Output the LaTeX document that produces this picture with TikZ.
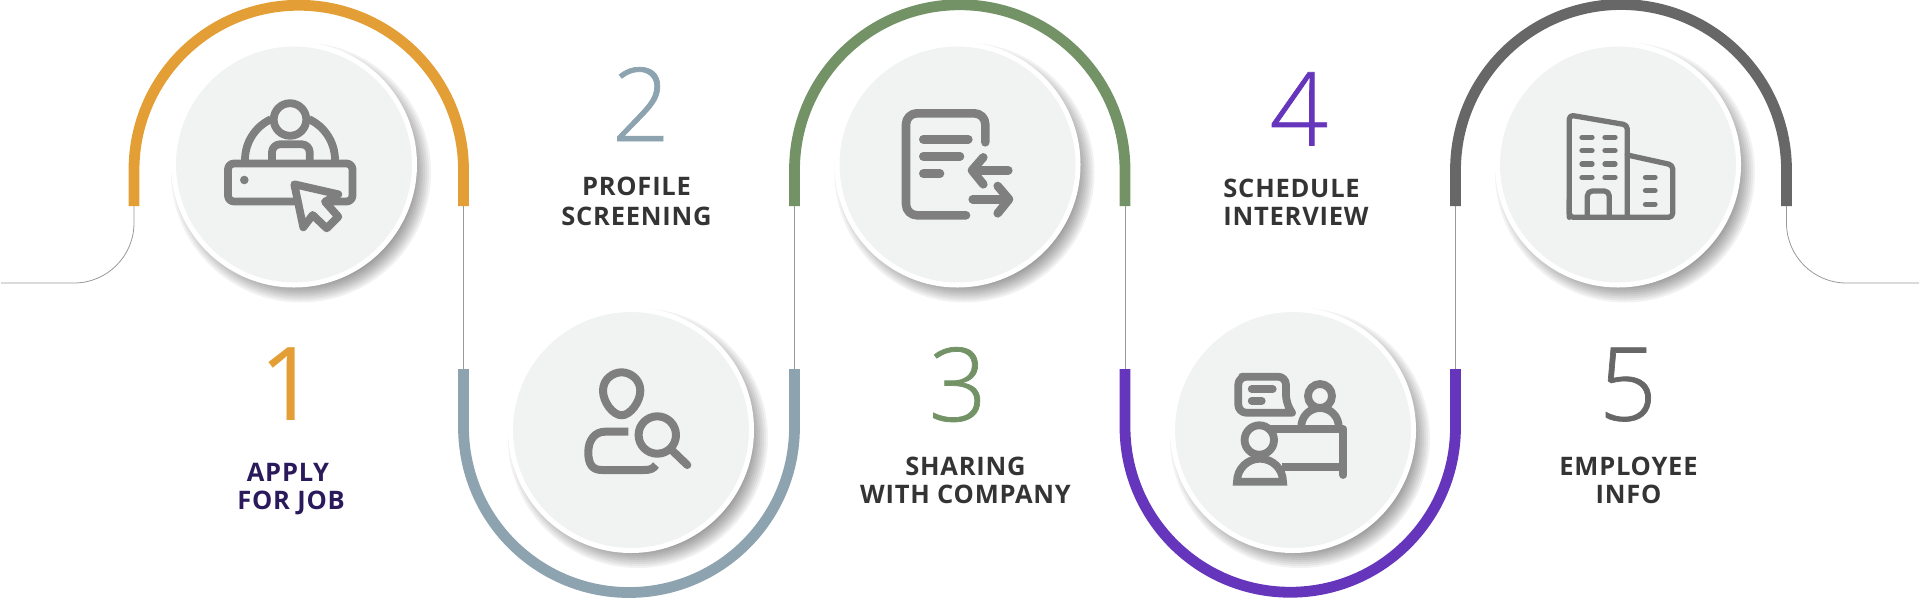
\documentclass[tikz,border=0pt]{standalone}
\usepackage{fontspec}
\setmainfont{Open Sans}[LetterSpace = 3]
\newfontfamily\digitfont{Open Sans Light}[FakeBold = 0.7]
\newfontfamily\onefont{Open Sans}
\definecolor{stepone}{HTML}{E39E35}
\definecolor{steptwo}{HTML}{8DA3B0}
\definecolor{stepthree}{HTML}{739367}
\definecolor{stepfour}{HTML}{6535BB}
\definecolor{stepfive}{HTML}{676767}
\definecolor{discfill}{HTML}{F1F3F2}
\definecolor{icongray}{HTML}{7F7F7F}
\definecolor{labelgray}{HTML}{343434}
\definecolor{applyblue}{HTML}{2B1A5B}
\tikzset{
	band/.style = {line width = 10.8pt},
	thinline/.style = {line width = 0.8pt, black!40},
	disc/.style = {circle, draw = white, line width = 5pt, fill = discfill, minimum size = 241pt, inner sep = 0pt},
	icon/.style = {line width = 7.8pt, icongray, line cap = round, line join = round},
	digit/.style = {anchor = base, inner sep = 0pt, font = \digitfont\fontsize{102}{102}\selectfont},
	caption/.style = {anchor = center, inner sep = 0pt, align = center, labelgray, font = \bfseries\fontsize{25.5}{28}\selectfont}
}
\begin{document}
\begin{tikzpicture}[x = 1pt, y = -1pt]
	\useasboundingbox (0, 0) rectangle (1920, 598);
	% thin lines
	\draw[thinline] (1, 283) -- (74, 283) arc (90:0:60) -- (134, 206);
	\draw[thinline] (463.5, 206) -- (463.5, 369);
	\draw[thinline] (794.5, 206) -- (794.5, 369);
	\draw[thinline] (1125, 206) -- (1125, 369);
	\draw[thinline] (1455.5, 206) -- (1455.5, 369);
	\draw[thinline] (1786.5, 206) -- (1786.5, 223) arc (180:90:60) -- (1919, 283);
	% the bands
	\draw[band, stepone] (134, 206) -- (134, 170) arc (180:360:164.75) -- (463.5, 206);
	\draw[band, steptwo] (463.5, 369) -- (463.5, 427) arc (180:0:165.5) -- (794.5, 369);
	\draw[band, stepthree] (794.5, 206) -- (794.5, 170) arc (180:360:165.25) -- (1125, 206);
	\draw[band, stepfour] (1125, 369) -- (1125, 427) arc (180:0:165.25) -- (1455.5, 369);
	\draw[band, stepfive] (1455.5, 206) -- (1455.5, 170) arc (180:360:165.5) -- (1786.5, 206);
	% the discs with their shadows
	\foreach \cx/\cy/\discname in {294/164.5/discone, 631/430/disctwo, 957.5/164.5/discthree, 1293/430/discfour, 1618/164.5/discfive} {
		\foreach \r in {110, 112, ..., 130}
			\fill[black, opacity = 0.05] (\cx + 7, \cy + 8) circle (\r);
		\node[disc] (\discname) at (\cx, \cy) {};
	}
	% digits
	\node[digit, stepone, font = \onefont\fontsize{102}{102}\selectfont] (numone) at (289, 420) {1};
	\node[digit, steptwo] (numtwo) at (641, 141) {2};
	\node[digit, stepthree] (numthree) at (958, 421) {3};
	\node[digit, stepfour] (numfour) at (1299, 145.5) {4};
	\node[digit, stepfive] (numfive) at (1628, 420.5) {5};
	% captions
	\node[caption, applyblue] (capone) at (291, 489) {APPLY\hspace*{6pt}\\FOR JOB};
	\node[caption] (captwo) at (636.5, 201.5) {PROFILE\\[2.6pt]SCREENING};
	\node[caption] (capthree) at (965.5, 480) {SHARING\\WITH COMPANY};
	\node[caption, align = left] (capfour) at (1296, 202.5) {SCHEDULE\\INTERVIEW};
	\node[caption] (capfive) at (1628.5, 480) {EMPLOYEE\\INFO};
	% person at the desk
	\draw[icon, rounded corners = 6pt] (228, 163.5) rectangle (352.5, 201.5);
	\draw[icon, line cap = butt] (245, 160) arc (180:245:45);
	\draw[icon, line cap = butt] (335, 160) arc (360:295:45);
	\draw[icon, fill = discfill] (290, 119.5) circle (16.3);
	\draw[icon, line cap = butt, rounded corners = 8pt] (272, 160) -- (272, 144.3) -- (309.7, 144.3) -- (309.7, 160);
	\fill[icongray] (244.3, 180) circle (4.3);
	\draw[icon, fill = discfill] (294.3, 184.3) -- (338.3, 194.3) -- (325, 201.7) -- (338.3, 216.7) -- (326.7, 228.3) -- (312.7, 215) -- (303.3, 227.3) -- cycle;
	% profile with the lens
	\draw[icon, line width = 8pt] (621.7, 372.3) .. controls (630, 372.3) and (640.3, 379) .. (640.3, 390.7) .. controls (640.3, 402) and (630, 415.3) .. (621.7, 415.3) .. controls (613, 415.3) and (603, 402) .. (603, 390.7) .. controls (603, 379) and (613, 372.3) .. (621.7, 372.3);
	\draw[icon, line width = 8pt, line cap = butt] (628.3, 431.7) -- (605, 431.7) .. controls (595, 431.7) and (588.3, 440) .. (588.3, 452) .. controls (588.3, 464) and (592, 470) .. (602, 470) -- (644, 470) .. controls (650, 470) and (653, 469) .. (656, 465);
	\draw[icon, line width = 8pt] (657.3, 435) circle (18.7);
	\draw[icon, line width = 8pt] (671.7, 450) -- (687.3, 465);
	% document with two arrows
	\draw[icon, line width = 8.6pt, rounded corners = 11pt] (966, 215.3) -- (906, 215.3) -- (906, 113.3) -- (985.3, 113.3) -- (985.3, 142.3);
	\draw[icon, line width = 8.6pt] (923.3, 139.3) -- (968.3, 139.3);
	\draw[icon, line width = 8.6pt] (923.3, 156.3) -- (960, 156.3);
	\draw[icon, line width = 8.6pt] (923.3, 173.7) -- (940, 173.7);
	\draw[icon, line width = 8.6pt] (1008.3, 170.3) -- (973.3, 170.3);
	\draw[icon, line width = 8.6pt] (983.3, 157.3) -- (972, 170.3) -- (983.3, 184.3);
	\draw[icon, line width = 8.6pt] (972.7, 199.3) -- (1008.3, 199.3);
	\draw[icon, line width = 8.6pt] (997.7, 186) -- (1009, 199.3) -- (997.7, 213.3);
	% interview at the table
	\draw[icon, rounded corners = 8pt] (1250, 376.7) -- (1286, 376.7) -- (1286, 403) [sharp corners] -- (1292, 412.7) -- (1250, 412.7) [rounded corners = 8pt] -- (1238.3, 412.7) -- (1238.3, 376.7) -- cycle;
	\draw[icon] (1251.7, 389) -- (1272.7, 389);
	\draw[icon] (1251.7, 400.7) -- (1261.7, 400.7);
	\draw[icon] (1320, 396) circle (12);
	\draw[icon, line cap = butt] (1301.3, 426.7) arc (180:360:18.7);
	\draw[icon] (1271.7, 429) -- (1343.3, 429) -- (1343.3, 475);
	\draw[icon, line cap = butt] (1281.7, 467.3) -- (1343.3, 467.3);
	\draw[icon, fill = discfill] (1259.3, 440) circle (14.7);
	\draw[icon, line cap = butt, line join = miter] (1237, 481.7) arc (180:360:23) -- cycle;
	% the offices
	\begin{scope}[icon, line width = 5.3pt, stepfive!90]
		\draw[rounded corners = 4pt] (1569.3, 217.3) -- (1569.3, 115) -- (1627.3, 125) -- (1627.3, 217.3);
		\draw[rounded corners = 4pt] (1627.3, 155) -- (1672.7, 165) -- (1672.7, 217.3) -- (1569.3, 217.3) -- (1569.3, 200);
		\draw[rounded corners = 5pt] (1587.3, 217.3) -- (1587.3, 191) -- (1609.3, 191) -- (1609.3, 217.3);
		\foreach \wy in {137.3, 150.7, 164, 177.3} {
			\draw (1582, \wy) -- (1592, \wy);
			\draw (1605, \wy) -- (1615, \wy);
		}
		\foreach \wy in {177.3, 190.7, 204.3}
			\draw (1645.5, \wy) -- (1655, \wy);
	\end{scope}
\end{tikzpicture}
\end{document}
